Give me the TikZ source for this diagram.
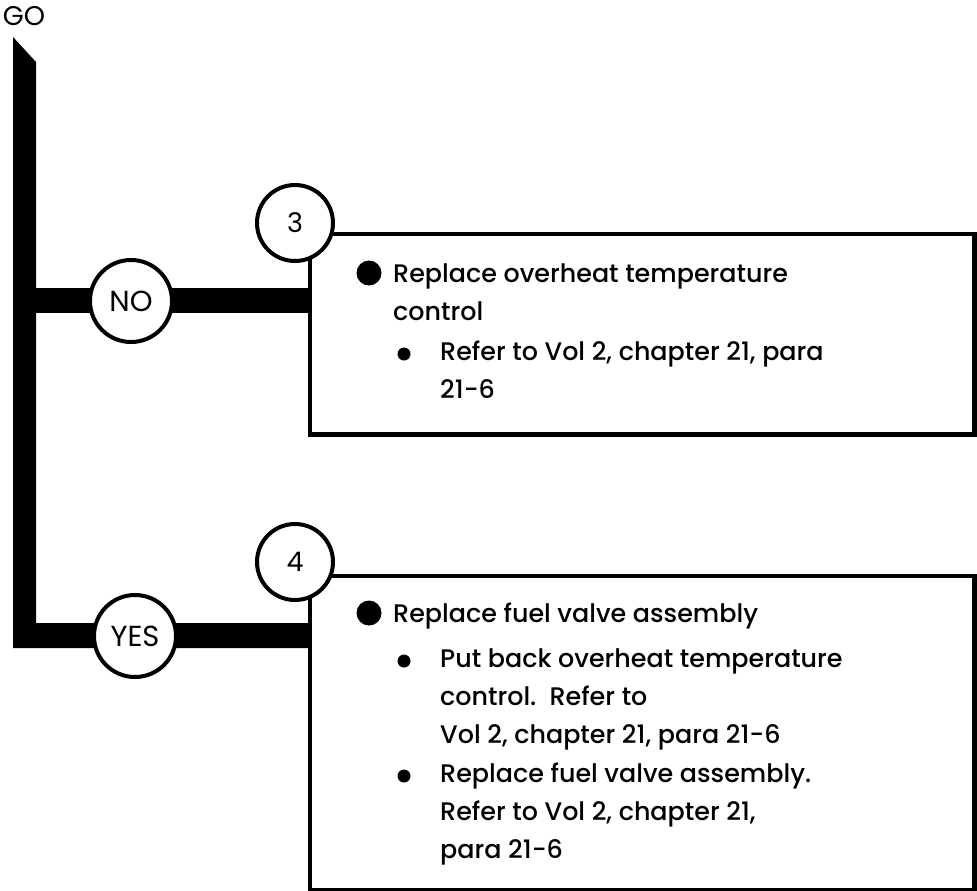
\documentclass[tikz,border=0pt]{standalone}
\usepackage{fontspec}
\setmainfont{Poppins}[UprightFont=* Medium]
\newfontfamily\labelfont{Poppins}
\begin{document}
\begin{tikzpicture}[x=1pt,y=-1pt,
  ring/.style={circle,draw=black,line width=4pt,fill=white,inner sep=0pt},
  smallring/.style={ring,minimum size=76pt,font=\labelfont\fontsize{27}{27}\selectfont},
  bigring/.style={ring,minimum size=82pt,font=\labelfont\fontsize{29}{29}\selectfont},
  boxst/.style={draw=black,line width=3pt,fill=white,anchor=north west,inner sep=0pt,minimum width=663pt},
  txt/.style={anchor=base west,inner sep=0pt,font=\fontsize{25.4}{38}\selectfont},
  bigdot/.style={circle,fill=black,inner sep=0pt,minimum size=25pt},
  smalldot/.style={circle,fill=black,inner sep=0pt,minimum size=13pt}]
\useasboundingbox (0,0) rectangle (977,891);
% boxes (positions)
\node[boxst,minimum height=199pt] (box1) at (309,233) {};
\node[boxst,minimum height=313pt] (box2) at (309,575) {};
% trunk and branches
\coordinate (t1) at (13,37);
\coordinate (t2) at (36,62);
\coordinate (t3) at (36,623);
\coordinate (t6) at (13,648);
\coordinate (n1) at (36,288);
\coordinate (n2) at (36,313);
\fill[black] (t1) -- (t2) -- (t3) -- (t3 -| box2.west) -- (t6 -| box2.west) -- (t6) -- cycle;
\fill[black] (n1) -- (n1 -| box1.west) -- (n2 -| box1.west) -- (n2) -- cycle;
\draw[line width=3pt] (box1.north west) -- (box1.north east) -- (box1.south east) -- (box1.south west) -- cycle;
\draw[line width=3pt] (box2.north west) -- (box2.north east) -- (box2.south east) -- (box2.south west) -- cycle;
% rings
\node[bigring] (no) at (131,301) {NO};
\node[bigring] (yes) at (135,636) {YES};
\node[smallring] (c3) at (295,223) {3};
\node[smallring] (c4) at (295,562) {4};
\node[font=\labelfont\fontsize{27}{27}\selectfont,inner sep=0pt] (go) at (24,16) {GO};
% box 1 text
\node[bigdot] (d1) at (369,273) {};
\node[txt] (l1) at (393,282) {Replace overheat temperature};
\node[txt] (l2) at (393,320) {control};
\node[smalldot] (d2) at (404,354) {};
\node[txt] (l3) at (440,360) {Refer to Vol 2, chapter 21, para};
\node[txt] (l4) at (440,398) {21-6};
% box 2 text
\node[bigdot] (d3) at (369,613) {};
\node[txt] (m1) at (393,622) {Replace fuel valve assembly};
\node[smalldot] (d4) at (404,661) {};
\node[txt] (m2) at (440,667) {Put back overheat temperature};
\node[txt] (m3) at (440,705) {control.\ \ Refer to};
\node[txt] (m4) at (440,743) {Vol 2, chapter 21, para 21-6};
\node[smalldot] (d5) at (404,776) {};
\node[txt] (m5) at (440,782) {Replace fuel valve assembly.};
\node[txt] (m6) at (440,820) {Refer to Vol 2, chapter 21,};
\node[txt] (m7) at (440,858) {para 21-6};
\end{tikzpicture}
\end{document}
